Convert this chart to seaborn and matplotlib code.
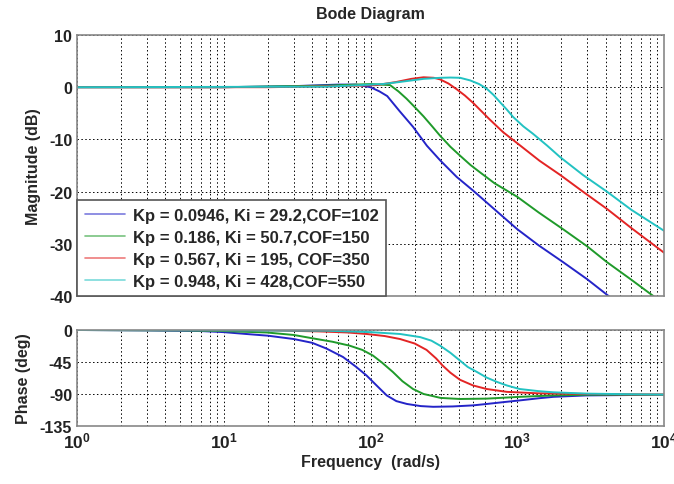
import numpy as np
import pandas as pd
import matplotlib
matplotlib.use("Agg")
import matplotlib.pyplot as plt
import seaborn as sns
from matplotlib.ticker import LogLocator, NullFormatter, FixedLocator

labels = ["Kp = 0.0946, Ki = 29.2,COF=102",
          "Kp = 0.186, Ki = 50.7,COF=150",
          "Kp = 0.567, Ki = 195, COF=350",
          "Kp = 0.948, Ki = 428,COF=550"]
colors = ["#2424c8", "#1f9a2a", "#e32424", "#22c2c2"]

# Magnitude (dB)
blue_mag_f = [1, 10, 30, 60, 80, 100, 115, 130, 158, 195, 242, 298, 387, 500, 700, 1000, 1400, 2050, 3000, 4280, 10000]
blue_mag = [0, 0, 0.2, 0.5, 0.5, 0, -0.8, -1.7, -4.6, -7.6, -11.2, -14.0, -17.2, -19.8, -23.4, -27.2, -30.3, -33.5, -36.8, -40.2, -48]
green_mag_f = [1, 10, 50, 100, 136, 155, 176, 200, 230, 265, 298, 350, 407, 480, 557, 700, 1000, 1400, 2050, 3000, 4080, 6000, 8450, 10000]
green_mag = [0, 0, 0.3, 0.6, 0.4, -0.8, -2.2, -3.8, -5.6, -7.6, -9.3, -11.4, -13.1, -14.9, -16.3, -18.4, -21.0, -24.0, -27.2, -30.5, -33.5, -36.9, -40.0, -41.5]
red_mag_f = [1, 20, 60, 110, 150, 190, 230, 270, 298, 340, 387, 440, 500, 570, 650, 800, 1050, 1420, 1960, 2800, 4080, 6000, 10000]
red_mag = [0, 0, 0.2, 0.4, 1.0, 1.6, 1.9, 1.8, 1.5, 0.7, -0.4, -1.6, -3.0, -4.6, -6.2, -8.6, -11.2, -14.1, -16.8, -20.0, -23.3, -27.0, -31.7]
cyan_mag_f = [1, 50, 121, 158, 230, 300, 350, 408, 478, 550, 620, 690, 765, 850, 937, 1100, 1277, 1600, 1960, 2800, 4080, 6000, 10000]
cyan_mag = [0, 0.1, 0.6, 1.0, 1.6, 1.8, 1.85, 1.8, 1.3, 0.6, -0.3, -1.5, -2.9, -4.3, -5.7, -7.5, -8.9, -11.2, -13.4, -16.8, -20.0, -23.5, -27.5]

# Phase (deg)
blue_ph_f = [1, 3, 7, 10, 14, 20, 30, 40, 50, 65, 80, 94, 110, 129, 150, 177, 220, 267, 364, 500, 620, 800, 1040, 1400, 1760, 2950, 10000]
blue_ph = [0, -0.5, -1.5, -3, -5.5, -8, -12.7, -18, -26, -38, -52, -64, -78, -92, -100, -104, -107, -108, -107.5, -106, -104, -101.5, -99, -96, -94, -92, -91]
green_ph_f = [1, 5, 10, 19.6, 30, 43, 55, 72, 88, 104, 120, 142, 165, 195, 230, 267, 300, 407, 620, 1040, 1760, 3000, 10000]
green_ph = [0, -0.5, -1.5, -3.5, -7, -12.7, -16.5, -22, -28, -36, -46, -59, -72, -83, -90, -93, -95.5, -97, -96.5, -94, -92, -91, -91]
red_ph_f = [1, 20, 45, 70, 94, 125, 159, 200, 241, 280, 310, 350, 407, 500, 620, 850, 1370, 3000, 10000]
red_ph = [0, -0.5, -2, -3.5, -5.6, -8.5, -12.7, -19, -28, -40, -50, -60, -70, -78, -83, -87, -89, -90, -91]
cyan_ph_f = [1, 50, 100, 159, 218, 260, 298, 350, 407, 460, 531, 620, 727, 850, 1040, 1400, 1760, 3000, 10000]
cyan_ph = [0, -1, -3, -5.6, -10, -15, -22, -32, -43, -52, -59, -67, -73, -78, -83, -86, -87.6, -89.5, -91]

mag_sets = [(blue_mag_f, blue_mag), (green_mag_f, green_mag), (red_mag_f, red_mag), (cyan_mag_f, cyan_mag)]
ph_sets = [(blue_ph_f, blue_ph), (green_ph_f, green_ph), (red_ph_f, red_ph), (cyan_ph_f, cyan_ph)]

def long_df(sets):
    rows = []
    for lab, (f, v) in zip(labels, sets):
        for a, b in zip(f, v):
            rows.append((lab, a, b))
    return pd.DataFrame(rows, columns=["series", "freq", "val"])

mag_df = long_df(mag_sets)
ph_df = long_df(ph_sets)

sns.set_theme(style="white")
plt.rcParams["font.family"] = ["Liberation Sans", "DejaVu Sans"]
plt.rcParams["font.weight"] = "bold"
plt.rcParams["mathtext.fontset"] = "custom"
plt.rcParams["mathtext.rm"] = "Liberation Sans:bold"
plt.rcParams["mathtext.bf"] = "Liberation Sans:bold"
plt.rcParams["mathtext.default"] = "bf"

fig = plt.figure(figsize=(6.74, 4.85), dpi=100)
left, width = 77 / 674, 587 / 674
ax1 = fig.add_axes([left, 1 - 297 / 485, width, 261 / 485])
ax2 = fig.add_axes([left, 1 - 427 / 485, width, 96 / 485])

palette = dict(zip(labels, colors))
sns.lineplot(data=mag_df, x="freq", y="val", hue="series", palette=palette,
             estimator=None, sort=False, linewidth=1.4, ax=ax1, legend=True)
sns.lineplot(data=ph_df, x="freq", y="val", hue="series", palette=palette,
             estimator=None, sort=False, linewidth=1.4, ax=ax2, legend=False)

for ax in (ax1, ax2):
    ax.set_xscale("log")
    ax.set_xlim(1, 1e4)
    ax.xaxis.set_major_locator(LogLocator(base=10, numticks=10))
    ax.xaxis.set_minor_locator(LogLocator(base=10, subs=np.arange(2, 10), numticks=50))
    ax.xaxis.set_minor_formatter(NullFormatter())
    ax.grid(True, which="major", axis="both", color="black", linestyle=(0, (1.5, 2.5)), linewidth=0.7)
    ax.grid(True, which="minor", axis="x", color="black", linestyle=(0, (1.5, 2.5)), linewidth=0.7)
    ax.tick_params(which="both", direction="in", length=3, labelsize=11.5, colors="#555555",
                   labelcolor="#222222")
    ax.tick_params(which="minor", length=2)
    for s in ax.spines.values():
        s.set_color("#888888")
        s.set_linewidth(1.2)
    ax.set_xlabel("")
    ax.set_ylabel("")

ax1.set_ylim(-40, 10)
ax1.yaxis.set_major_locator(FixedLocator([-40, -30, -20, -10, 0, 10]))
ax1.set_yticklabels(["-40", "-30", "-20", "-10", "0", "10"], fontweight="bold", fontsize=11.5)
ax1.tick_params(axis="x", labelbottom=False)

ax2.set_ylim(-135, 0)
ax2.yaxis.set_major_locator(FixedLocator([-135, -90, -45, 0]))
ax2.set_yticklabels(["-135", "-90", "-45", "0"], fontweight="bold", fontsize=11.5)
ax2.set_xticks([1, 10, 100, 1000, 10000])
ax2.set_xticklabels([r"$10^{0}$", r"$10^{1}$", r"$10^{2}$", r"$10^{3}$", r"$10^{4}$"], fontsize=12.5)

ax1.set_ylabel("Magnitude (dB)", fontsize=11.5, fontweight="bold", labelpad=6)
ax2.set_ylabel("Phase (deg)", fontsize=11.5, fontweight="bold", labelpad=6)
ax2.set_xlabel("Frequency  (rad/s)", fontsize=11.5, fontweight="bold", labelpad=2)
fig.text(0.55, 1 - 15 / 485, "Bode Diagram", ha="center", va="center",
         fontsize=11.5, fontweight="bold")

handles, labs = ax1.get_legend_handles_labels()
leg = ax1.legend(handles, labs, loc="lower left", bbox_to_anchor=(0.0, 0.0),
                 prop={"weight": "bold", "size": 12.0}, frameon=True, fancybox=False,
                 edgecolor="#555555", framealpha=1, borderpad=0.45, labelspacing=0.42,
                 handlelength=2.4, handletextpad=0.5, borderaxespad=0.0)
leg.get_frame().set_linewidth(1.2)
for h in leg.get_lines():
    h.set_linewidth(1.2)
    h.set_alpha(0.6)

fig.savefig("out.png", dpi=100)
